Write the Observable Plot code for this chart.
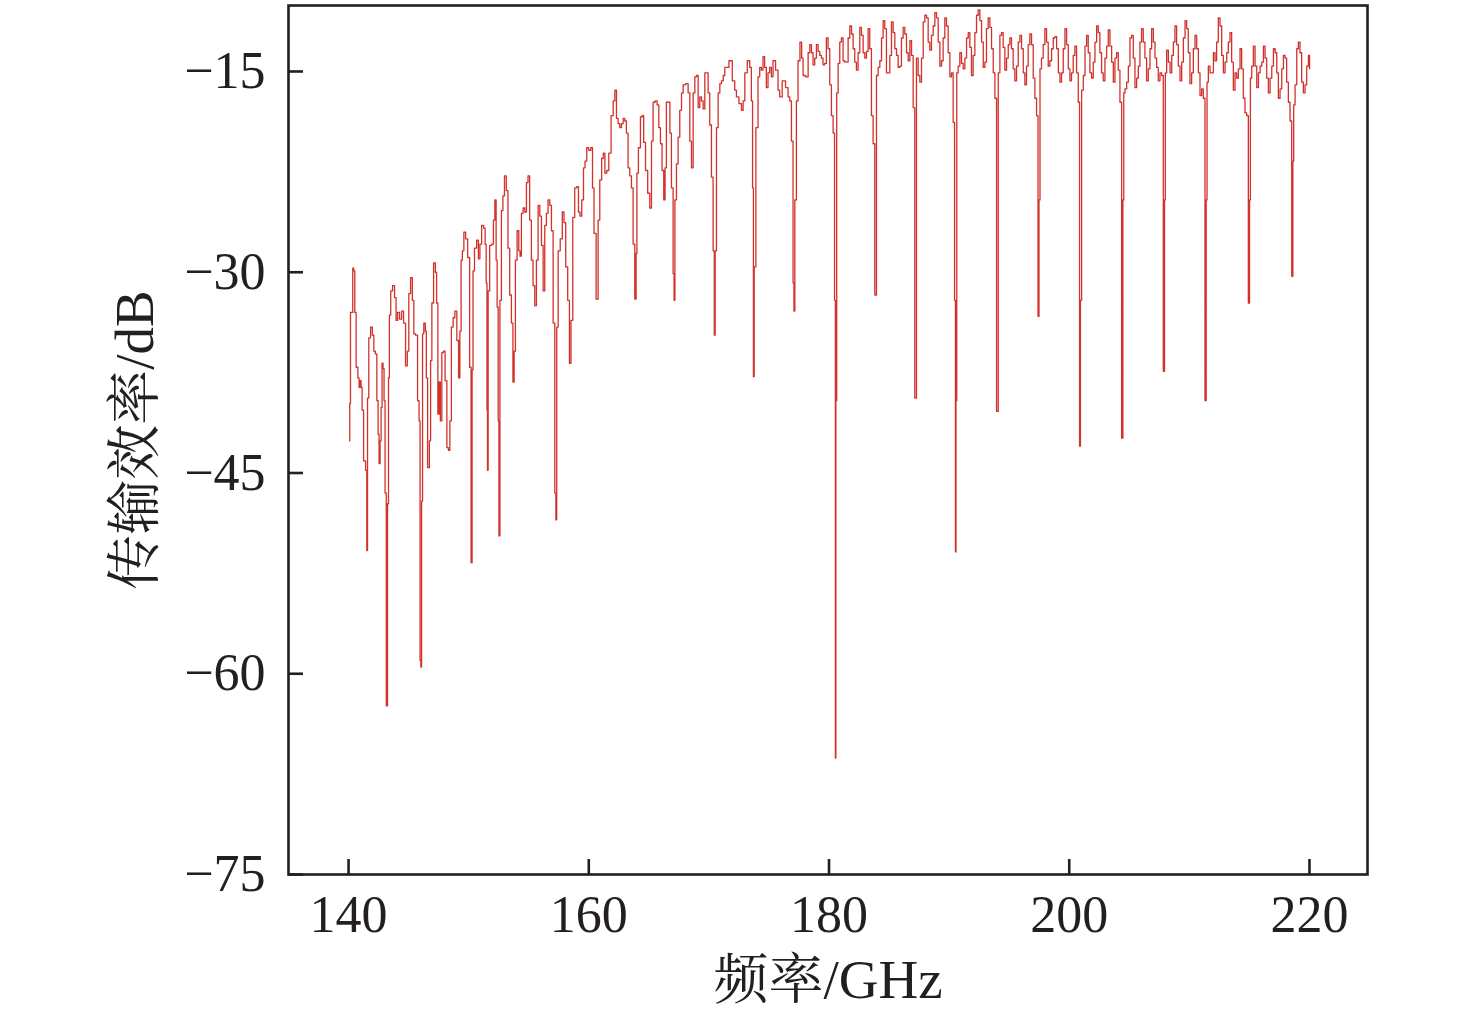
<!DOCTYPE html>
<html><head><meta charset="utf-8">
<script src="https://cdn.jsdelivr.net/npm/d3@7"></script>
<script src="https://cdn.jsdelivr.net/npm/@observablehq/plot@0.6"></script>
<style>html,body{margin:0;padding:0;background:#fff;} #chart svg{display:block}</style>
</head><body><div id="chart"></div>
<script>
// [frequency GHz, transmission efficiency dB]
const seg140 = [[140.08,-42.6],[140.12,-39.8],[140.2,-33.0],[140.33,-33.0],[140.37,-29.7],[140.5,-29.9],[140.54,-33.0],[140.72,-37.1],[140.83,-37.9],[140.92,-38.6],[141.0,-38.1],[141.08,-38.6],[141.17,-40.3],[141.33,-44.1],[141.5,-44.8],[141.54,-50.8],[141.62,-39.4],[141.75,-34.9],[141.92,-34.1],[142.04,-34.7],[142.17,-35.9],[142.29,-36.1],[142.42,-39.6],[142.5,-42.1],[142.58,-44.3],[142.67,-42.6],[142.75,-40.1],[142.83,-36.8],[142.91,-37.2],[143.0,-39.6],[143.08,-46.5],[143.2,-62.4],[143.29,-47.3],[143.36,-37.9],[143.44,-33.2],[143.58,-31.4],[143.75,-31.0],[143.91,-31.9],[144.0,-33.6],[144.16,-33.0],[144.33,-33.5],[144.5,-32.9],[144.66,-33.8],[144.83,-37.0],[144.95,-35.9],[145.08,-31.6],[145.25,-30.4],[145.37,-32.1],[145.5,-34.6],[145.66,-34.7],[145.83,-39.6],[145.91,-41.1],[146.0,-59.0],[146.04,-59.5],[146.12,-47.1],[146.2,-34.6],[146.33,-33.8],[146.45,-34.4],[146.5,-37.9],[146.66,-44.6],[146.79,-42.6],[146.87,-36.6],[147.0,-32.3],[147.16,-29.3],[147.29,-30.0],[147.37,-32.3],[147.5,-40.6],[147.58,-38.2],[147.7,-41.1],[147.83,-36.0],[147.95,-35.9],[148.12,-38.1],[148.25,-43.1],[148.37,-43.3],[148.5,-41.1],[148.62,-34.1],[148.79,-33.4],[148.91,-32.9],[149.12,-35.1],[149.2,-37.9],[149.33,-34.4],[149.41,-29.1],[149.54,-28.4],[149.66,-27.0],[149.83,-27.5],[150.0,-28.9]];
const seg150 = [[150.16,-37.1],[150.24,-51.7],[150.33,-37.3],[150.39,-29.9],[150.58,-28.2],[150.75,-27.6],[150.87,-29.0],[151.0,-27.9],[151.16,-26.5],[151.33,-26.7],[151.41,-27.9],[151.5,-30.8],[151.55,-40.3],[151.58,-44.8],[151.66,-31.4],[151.83,-28.0],[152.0,-27.9],[152.12,-26.1],[152.24,-24.6],[152.33,-29.1],[152.41,-32.6],[152.5,-41.1],[152.54,-49.7],[152.66,-32.1],[152.79,-25.4],[152.91,-24.3],[153.05,-22.8],[153.21,-23.9],[153.33,-28.2],[153.5,-31.7],[153.62,-33.8],[153.75,-38.2],[153.82,-35.9],[153.96,-29.1],[154.1,-26.9],[154.24,-28.4],[154.32,-28.8],[154.46,-25.6],[154.6,-25.2],[154.74,-25.5],[154.88,-23.3],[155.0,-22.8],[155.15,-26.1],[155.29,-29.1],[155.43,-31.0],[155.57,-32.5],[155.71,-29.1],[155.85,-25.0],[155.99,-25.8],[156.13,-28.0],[156.27,-31.4],[156.4,-26.5],[156.54,-25.6],[156.68,-24.6],[156.82,-25.0],[156.96,-26.9],[157.1,-33.8],[157.24,-46.5],[157.28,-48.5],[157.38,-34.1],[157.52,-28.4],[157.72,-27.5],[157.87,-25.5],[158.0,-26.3],[158.16,-29.6],[158.33,-32.1],[158.45,-36.8],[158.58,-33.6],[158.75,-25.9],[158.91,-23.7],[159.08,-23.6],[159.2,-25.5],[159.33,-25.8],[159.5,-24.6],[159.62,-22.2],[159.75,-21.7],[159.91,-20.7]];
const seg160 = [[160.08,-20.9],[160.25,-20.7],[160.37,-23.7],[160.5,-27.1],[160.72,-32.0],[160.83,-26.1],[161.0,-23.1],[161.14,-21.5],[161.27,-21.1],[161.41,-22.6],[161.58,-22.4],[161.75,-21.1],[161.96,-18.3],[162.1,-17.2],[162.24,-16.4],[162.37,-18.5],[162.51,-18.9],[162.65,-19.2],[162.79,-18.9],[162.93,-18.5],[163.06,-18.7],[163.2,-19.6],[163.34,-22.2],[163.48,-22.8],[163.62,-23.7],[163.76,-27.9],[163.9,-32.0],[163.98,-28.6],[164.03,-22.6],[164.23,-20.7],[164.37,-18.4],[164.5,-18.3],[164.64,-20.3],[164.81,-22.4],[165.0,-24.1],[165.15,-25.2],[165.29,-20.2],[165.42,-17.3],[165.62,-17.2],[165.76,-17.5],[165.9,-19.2],[166.03,-20.4],[166.17,-22.4],[166.31,-24.6],[166.39,-22.2],[166.53,-17.3],[166.7,-17.3],[166.81,-19.6],[166.95,-23.7],[167.09,-30.1],[167.11,-32.1],[167.23,-24.6],[167.37,-21.9],[167.5,-19.9],[167.65,-17.9],[167.79,-16.6],[167.92,-16.0],[168.2,-15.9],[168.34,-16.6],[168.48,-20.2],[168.62,-22.2],[168.76,-16.6],[168.9,-15.4],[169.04,-15.3],[169.17,-17.7],[169.31,-16.9],[169.45,-17.2],[169.59,-17.8],[169.73,-15.1],[169.87,-15.1],[170.0,-16.6],[170.14,-19.0],[170.28,-22.9],[170.42,-28.4],[170.48,-34.7],[170.56,-28.4],[170.7,-19.2],[170.84,-16.6],[170.98,-15.9],[171.12,-15.7],[171.26,-15.3],[171.39,-14.7],[171.53,-14.7],[171.81,-14.2],[172.08,-15.7],[172.22,-16.4],[172.36,-16.9],[172.64,-17.4],[172.78,-17.9],[172.92,-17.2],[173.06,-15.1],[173.33,-14.2],[173.47,-14.7],[173.6,-17.2],[173.67,-23.7],[173.74,-37.8],[173.8,-29.6],[174.02,-19.2],[174.16,-15.4],[174.3,-14.7],[174.44,-14.9],[174.57,-13.9],[174.71,-14.7],[174.85,-16.2],[174.99,-15.1],[175.13,-14.7],[175.27,-15.4],[175.41,-14.2],[175.69,-14.9],[175.82,-16.4],[175.96,-16.9],[176.24,-15.7],[176.52,-16.2],[176.66,-16.9],[176.8,-17.2],[176.94,-20.2],[177.07,-30.8],[177.09,-32.9],[177.22,-24.6],[177.35,-17.2],[177.49,-14.2],[177.67,-12.8],[177.77,-14.0],[177.91,-15.3],[178.19,-15.4],[178.33,-13.6],[178.47,-13.0],[178.6,-13.6],[178.74,-14.5],[178.88,-14.0],[179.02,-13.0],[179.16,-13.5],[179.3,-13.8],[179.43,-14.0],[179.57,-14.5],[179.71,-14.4],[179.85,-12.5],[179.99,-13.3]];
const seg180 = [[180.13,-16.0],[180.27,-18.3],[180.41,-19.6],[180.51,-32.1],[180.55,-66.3],[180.59,-39.6],[180.69,-16.6],[180.83,-14.4],[180.96,-12.8],[181.1,-12.5],[181.24,-14.2],[181.38,-14.3],[181.52,-14.3],[181.66,-12.5],[181.8,-11.6],[181.94,-12.2],[182.07,-13.3],[182.21,-14.3],[182.35,-14.9],[182.49,-13.6],[182.63,-11.7],[182.77,-12.3],[182.91,-13.6],[183.05,-14.0],[183.19,-13.5],[183.32,-11.8],[183.46,-13.3],[183.6,-18.3],[183.74,-20.4],[183.88,-31.7],[184.02,-15.3],[184.16,-14.7],[184.3,-14.2],[184.44,-12.5],[184.57,-11.2],[184.71,-11.8],[184.85,-15.1],[184.99,-15.1],[185.13,-13.8],[185.27,-11.3],[185.41,-12.1],[185.55,-13.3],[185.69,-13.8],[185.82,-14.7],[185.96,-14.6],[186.1,-12.5],[186.24,-11.7],[186.38,-12.2],[186.52,-13.6],[186.66,-14.2],[186.8,-12.7],[186.94,-13.8],[187.07,-17.7],[187.21,-39.4],[187.35,-14.0],[187.49,-15.3],[187.63,-15.8],[187.77,-14.0],[187.91,-11.3],[188.05,-10.8],[188.19,-11.0],[188.32,-12.8],[188.46,-13.4],[188.6,-12.3],[188.74,-11.6],[188.88,-10.6],[189.02,-11.0],[189.16,-12.8],[189.3,-14.6],[189.43,-14.2],[189.57,-12.5],[189.71,-11.0],[189.85,-11.6],[189.99,-13.6],[190.13,-15.4],[190.27,-15.1],[190.4,-18.8],[190.5,-32.1],[190.55,-50.9],[190.59,-39.6],[190.68,-15.1],[190.82,-14.6],[190.96,-13.6],[191.1,-14.4],[191.24,-14.8],[191.38,-14.0],[191.52,-12.5],[191.66,-12.1],[191.79,-13.2],[191.93,-15.3],[192.07,-13.8],[192.21,-12.1],[192.35,-10.8],[192.49,-10.4],[192.63,-11.2],[192.77,-12.8],[192.91,-14.7],[193.04,-14.3],[193.18,-11.8],[193.32,-11.0],[193.46,-11.7],[193.6,-13.3],[193.74,-15.1],[193.88,-17.0],[194.02,-40.4],[194.16,-15.1],[194.29,-12.3],[194.43,-12.1],[194.57,-13.2],[194.71,-14.9],[194.85,-14.0],[194.99,-13.0],[195.12,-12.5],[195.26,-13.3],[195.4,-14.8],[195.54,-15.7],[195.68,-14.6],[195.82,-12.8],[195.96,-12.3],[196.1,-13.3],[196.24,-15.1],[196.37,-16.0],[196.51,-14.6],[196.65,-13.0],[196.79,-12.2],[196.93,-13.0],[197.07,-15.5],[197.21,-17.0],[197.35,-18.3],[197.45,-33.3],[197.51,-24.6],[197.62,-14.8],[197.76,-14.0],[197.9,-13.0],[198.04,-11.8],[198.18,-12.8],[198.32,-14.6],[198.46,-14.2],[198.6,-13.3],[198.74,-12.5],[198.88,-12.4],[199.02,-13.3],[199.16,-15.1],[199.29,-15.8],[199.43,-15.1],[199.57,-13.3],[199.71,-11.8],[199.85,-13.0],[199.99,-14.8]];
const seg200 = [[200.12,-15.7],[200.26,-15.1],[200.4,-13.8],[200.54,-13.1],[200.68,-15.1],[200.82,-17.3],[200.9,-43.0],[200.96,-32.1],[201.1,-16.4],[201.24,-15.3],[201.38,-13.1],[201.51,-12.3],[201.65,-13.6],[201.79,-15.1],[201.93,-15.5],[202.07,-14.3],[202.21,-12.8],[202.35,-11.6],[202.48,-12.1],[202.62,-13.6],[202.76,-15.1],[202.9,-15.7],[203.04,-14.0],[203.18,-13.1],[203.32,-11.9],[203.46,-13.1],[203.6,-14.3],[203.74,-15.8],[203.87,-14.0],[204.01,-13.6],[204.15,-14.9],[204.29,-17.3],[204.43,-42.4],[204.5,-24.6],[204.57,-16.6],[204.71,-16.3],[204.85,-15.8],[204.99,-14.6],[205.12,-12.5],[205.26,-12.3],[205.4,-14.0],[205.54,-16.2],[205.68,-15.5],[205.82,-14.6],[205.95,-12.8],[206.09,-11.8],[206.23,-12.8],[206.37,-14.0],[206.51,-15.7],[206.65,-14.8],[206.79,-13.3],[206.93,-11.8],[207.07,-12.8],[207.21,-14.0],[207.34,-14.7],[207.48,-15.7],[207.62,-15.1],[207.76,-15.3],[207.9,-37.4],[207.96,-24.6],[208.04,-15.1],[208.18,-13.4],[208.32,-14.3],[208.46,-15.1],[208.6,-13.8],[208.73,-12.8],[208.87,-11.6],[209.01,-13.0],[209.15,-14.6],[209.29,-15.7],[209.43,-14.3],[209.57,-12.5],[209.71,-11.2],[209.84,-11.8],[209.98,-13.6],[210.12,-15.9],[210.26,-15.1],[210.4,-13.3],[210.54,-12.3],[210.68,-13.3],[210.82,-15.1],[210.95,-16.8],[211.09,-16.3],[211.23,-17.0],[211.37,-39.6],[211.43,-24.6],[211.51,-15.8],[211.65,-14.6],[211.79,-15.1],[211.93,-15.1],[212.07,-13.6],[212.2,-14.2],[212.34,-12.8],[212.48,-11.0],[212.62,-11.6],[212.76,-13.8],[212.9,-15.1],[213.04,-14.3],[213.18,-13.6],[213.31,-12.8],[213.45,-12.1],[213.59,-14.3],[213.73,-16.4],[213.87,-15.1],[214.01,-15.5],[214.15,-14.8],[214.29,-13.3],[214.42,-14.8],[214.56,-17.0],[214.7,-18.1],[214.84,-18.3],[214.98,-32.3],[215.04,-24.6],[215.12,-15.5],[215.26,-14.6],[215.4,-13.1],[215.54,-14.6],[215.68,-16.2],[215.82,-15.1],[215.96,-14.6],[216.1,-14.3],[216.23,-13.1],[216.37,-14.0],[216.51,-15.5],[216.65,-16.6],[216.79,-15.5],[216.93,-14.6],[217.07,-13.3],[217.21,-13.6],[217.34,-15.1],[217.48,-17.0],[217.62,-16.3],[217.76,-14.8],[217.9,-13.8],[218.03,-14.0],[218.17,-15.8],[218.31,-17.3],[218.45,-18.7],[218.59,-30.3],[218.64,-21.7],[218.73,-17.5],[218.87,-16.0],[219.01,-13.3],[219.14,-12.8],[219.28,-13.6],[219.42,-15.8],[219.56,-16.6],[219.7,-16.0],[219.84,-14.6],[219.98,-13.8],[220.03,-14.8]];

const xTicks = [140, 160, 180, 200, 220];
const yTicks = [-15, -30, -45, -60, -75];
const xLabel = "频率/GHz";
const yLabel = "传输效率/dB";

const trace = [...seg140, ...seg150, ...seg160, ...seg180, ...seg200].map(([f, v]) => ({f, v}));

const FONT = '"Liberation Serif","Times New Roman","Noto Serif CJK SC","Noto Sans CJK SC",serif';
const W = 1476, H = 1022, ML = 288, MR = 109, MT = 5, MB = 148;
const frameH = H - MT - MB, frameW = W - ML - MR, tickLen = 15;
const ink = "#231f20";

const chart = Plot.plot({
  width: W, height: H,
  marginLeft: ML, marginRight: MR, marginTop: MT, marginBottom: MB,
  style: {fontFamily: FONT, background: "#fff", color: ink},
  x: {domain: [135, 224.83]},
  y: {domain: [-75, -10.07]},
  marks: [
    Plot.line(trace, {x: "f", y: "v", curve: "step", stroke: "#d2322c", strokeWidth: 1.3}),
    Plot.frame({stroke: ink, strokeWidth: 2.6}),
    Plot.tickX(xTicks, {x: d => d, insetTop: frameH - tickLen, stroke: ink, strokeWidth: 2.6}),
    Plot.tickY(yTicks, {y: d => d, insetRight: frameW - tickLen, stroke: ink, strokeWidth: 2.6}),
    Plot.axisX({ticks: xTicks, tickSize: 0, tickPadding: 21, fontSize: 52, label: null, tickFormat: d => String(d)}),
    Plot.axisY({ticks: yTicks, tickSize: 0, tickPadding: 23, fontSize: 52, label: null, tickFormat: d => (d < 0 ? "\u2212" : "") + Math.abs(d)}),
    Plot.text([xLabel], {text: d => d, frameAnchor: "bottom", dy: 106, fontSize: 55, textAnchor: "middle", lineAnchor: "middle", fill: ink}),
    Plot.text([yLabel], {text: d => d, frameAnchor: "left", dx: -153, rotate: -90, fontSize: 55, textAnchor: "middle", lineAnchor: "middle", fill: ink})
  ]
});
document.getElementById("chart").appendChild(chart);
</script>
</body></html>
